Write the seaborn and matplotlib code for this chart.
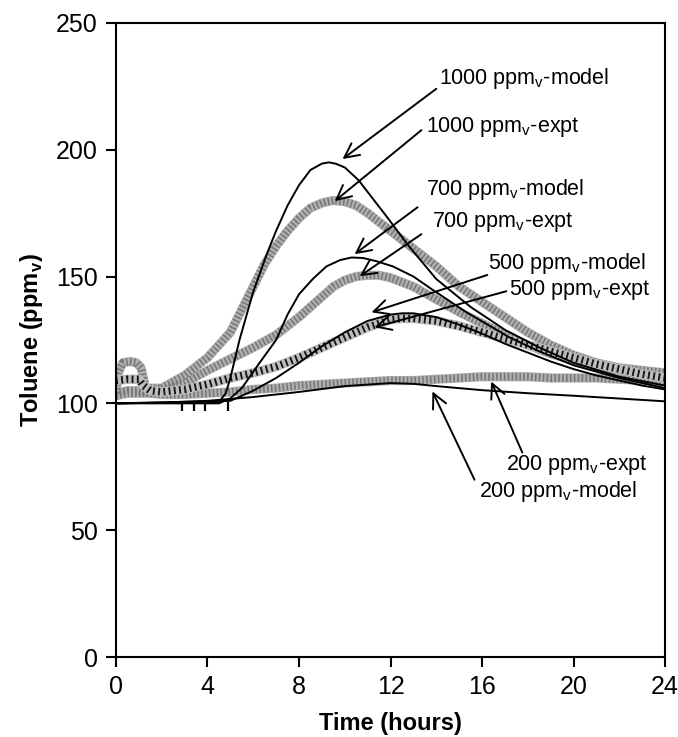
import numpy as np
import pandas as pd
import matplotlib
matplotlib.use('Agg')
import matplotlib.pyplot as plt
import seaborn as sns

# experimental series (hours, ppmv)
t_exp_1000 = [0, 0.1, 0.3, 0.6, 0.9, 1.1, 1.3, 2, 3, 4, 5, 6, 6.5, 7, 7.5, 8, 8.5, 9, 9.5, 10,
              10.5, 11, 11.5, 12, 13, 14, 15, 16, 17, 18, 19, 20, 21, 22, 23, 24]
y_exp_1000 = [104, 112, 116, 116.5, 116, 114, 106, 106, 111, 118, 128, 146, 155, 162, 168, 173,
              177, 179, 180, 179.5, 178, 175, 171.5, 168, 161, 154, 146, 140, 134, 128, 123,
              119, 116, 114, 113, 112]

t_exp_700 = [0, 0.5, 1, 1.5, 2, 3, 4, 5, 6, 7, 8, 9, 9.5, 10, 10.5, 11, 11.5, 12, 13, 14, 15,
             16, 17, 18, 19, 20, 21, 22, 23, 24]
y_exp_700 = [104, 105, 105, 104, 105, 108, 113, 117.5, 122, 127, 134, 142, 146, 148.5, 150,
             150.5, 150.5, 149.5, 146, 141, 136, 131.5, 127, 123, 119.5, 117, 114.5, 113,
             111.5, 110]

t_exp_500 = [0, 0.5, 1.0, 1.2, 1.5, 2, 3, 4, 5, 6, 7, 8, 9, 10, 11, 12, 12.5, 13, 14, 15, 16,
             17, 18, 19, 20, 21, 22, 23, 24]
y_exp_500 = [109, 109.5, 109.5, 107, 105, 104.5, 105.5, 107.5, 110, 112, 114.5, 118, 122, 126,
             130, 133, 133.5, 133.5, 132.5, 130.5, 128, 125.5, 123, 120.5, 118, 115.5, 113.5,
             111.5, 110]

t_exp_200 = [0, 0.5, 1, 1.5, 2, 3, 4, 5, 6, 7, 8, 9, 10, 11, 12, 13, 14, 15, 16, 17, 18, 19,
             20, 21, 22, 23, 24]
y_exp_200 = [103, 104, 104, 104, 103.5, 103.5, 104, 104.5, 105.5, 106, 107, 107.5, 108, 108.5,
             109, 109, 109.5, 110, 110.5, 110.5, 110.5, 110, 110, 110, 109.5, 109, 108.5]

# model series
t_mod_1000 = [0, 4.5, 4.8, 5.0, 5.4, 6.0, 6.6, 7.0, 7.5, 8.0, 8.5, 9.0, 9.3, 9.6, 10.0, 10.6,
              11.2, 11.8, 12.8, 14.0, 15.5, 17.0, 18.5, 20.0, 22.0, 24.0]
y_mod_1000 = [100, 100.5, 104, 110, 125, 144, 159, 168, 178, 186, 192, 194.5, 195, 194.5, 193,
              188, 181, 174, 162, 149, 138, 129, 122, 116, 110.5, 107]

t_mod_700 = [0, 4.5, 5.0, 5.5, 6.2, 7.0, 7.5, 8.0, 8.6, 9.2, 9.8, 10.3, 10.8, 11.4, 12.1, 13.0,
             13.8, 15.3, 17.2, 18.5, 20, 22, 24]
y_mod_700 = [100, 100, 102, 106, 115, 125, 135, 143, 149, 154, 156.5, 157.5, 157.3, 156, 154,
             150, 145, 136, 126, 120.5, 115, 110, 106]

t_mod_500 = [0, 5, 6, 7, 8, 9, 10, 11, 12, 12.5, 13, 14, 15, 16, 17, 18, 19, 20, 21, 22, 23, 24]
y_mod_500 = [100, 101, 105, 110, 116, 122.5, 128, 132.5, 135, 135.5, 135.5, 134, 131, 127.5,
             123.5, 120, 116.5, 113.5, 111, 109, 107, 105.5]

t_mod_200 = [0, 2, 4, 6, 8, 10, 12, 13, 14, 16, 18, 20, 22, 24]
y_mod_200 = [100, 100.3, 101, 102.5, 104.5, 106.8, 108, 107.7, 106.8, 105.2, 104, 103, 101.9,
             100.8]

# short vertical marks on the 100 ppmv baseline
mark_t = [2.9, 3.4, 3.9, 4.9]

sub = 'ppm$_{\\mathregular{v}}$'
# label, text pos, arrow start, arrow tip (data coords)
labels = [
    ('1000 ' + sub + '-model', (14.14, 227.9), (14.0, 224.0), (9.9, 196.3)),
    ('1000 ' + sub + '-expt', (13.53, 208.9), (13.35, 207.7), (9.56, 179.7)),
    ('700 ' + sub + '-model', (13.57, 184.4), (13.18, 177.3), (10.43, 158.8)),
    ('700 ' + sub + '-expt', (13.83, 171.4), (13.35, 166.7), (10.65, 150.1)),
    ('500 ' + sub + '-model', (16.28, 155.2), (16.23, 150.6), (11.17, 135.9)),
    ('500 ' + sub + '-expt', (17.19, 144.6), (17.06, 144.2), (11.3, 130.0)),
    ('200 ' + sub + '-expt', (17.06, 75.8), (17.76, 80.6), (16.4, 108.6)),
    ('200 ' + sub + '-model', (15.88, 65.2), (15.67, 69.9), (13.83, 104.7)),
]

sns.set_theme(style='ticks')
plt.rcParams['font.family'] = ['Liberation Sans', 'DejaVu Sans']
plt.rcParams['mathtext.fontset'] = 'custom'
plt.rcParams['mathtext.rm'] = 'Liberation Sans'
plt.rcParams['mathtext.bf'] = 'Liberation Sans:bold'
plt.rcParams['text.color'] = 'black'
plt.rcParams['axes.labelcolor'] = 'black'

fig = plt.figure(figsize=(6.78, 7.37), dpi=100)
ax = fig.add_axes([0.171, 0.1085, 0.81, 0.8605])

# gray experimental bands
for t, y in [(t_exp_200, y_exp_200), (t_exp_700, y_exp_700), (t_exp_1000, y_exp_1000)]:
    sns.lineplot(x=t, y=y, ax=ax, color='#b0b0b0', lw=6.6, sort=False, estimator=None,
                 zorder=2)
    sns.lineplot(x=t, y=y, ax=ax, color='#767676', lw=5.6, sort=False, estimator=None,
                 linestyle=(0, (0.2, 0.3)), zorder=2.1)

# 500 expt: black hatched band
sns.lineplot(x=t_exp_500, y=y_exp_500, ax=ax, color='#bdbdbd', lw=6.8, sort=False,
             estimator=None, zorder=2.2)
sns.lineplot(x=t_exp_500, y=y_exp_500, ax=ax, color='#151515', lw=5.4, sort=False,
             estimator=None, linestyle=(0, (0.25, 0.45)), zorder=2.3)

# model curves
for t, y in [(t_mod_200, y_mod_200), (t_mod_500, y_mod_500),
             (t_mod_700, y_mod_700), (t_mod_1000, y_mod_1000)]:
    sns.lineplot(x=t, y=y, ax=ax, color='black', lw=1.4, sort=False, estimator=None, zorder=3)

ax.vlines(mark_t, 97, 100.5, color='black', lw=1.6, zorder=3)

for text, tpos, start, tip in labels:
    ax.text(tpos[0], tpos[1], text, fontsize=15.5, ha='left', va='center', color='black',
            zorder=5)
    ax.annotate('', xy=tip, xytext=start,
                arrowprops=dict(arrowstyle='->', lw=1.4, color='black',
                                mutation_scale=26, shrinkA=0, shrinkB=0), zorder=4)

ax.set_xlim(0, 24)
ax.set_ylim(0, 250)
ax.set_xticks(np.arange(0, 25, 4))
ax.set_yticks(np.arange(0, 251, 50))
ax.tick_params(direction='out', length=7, width=1.5, labelsize=18, colors='black', pad=6)
for s in ax.spines.values():
    s.set_linewidth(1.5)
    s.set_color('black')
ax.set_xlabel('Time (hours)', fontsize=17, fontweight='bold', labelpad=9)
ax.set_ylabel('Toluene (ppm$_{\\mathbf{v}}$)', fontsize=17, fontweight='bold', labelpad=8)

fig.savefig('out.png', dpi=100)
